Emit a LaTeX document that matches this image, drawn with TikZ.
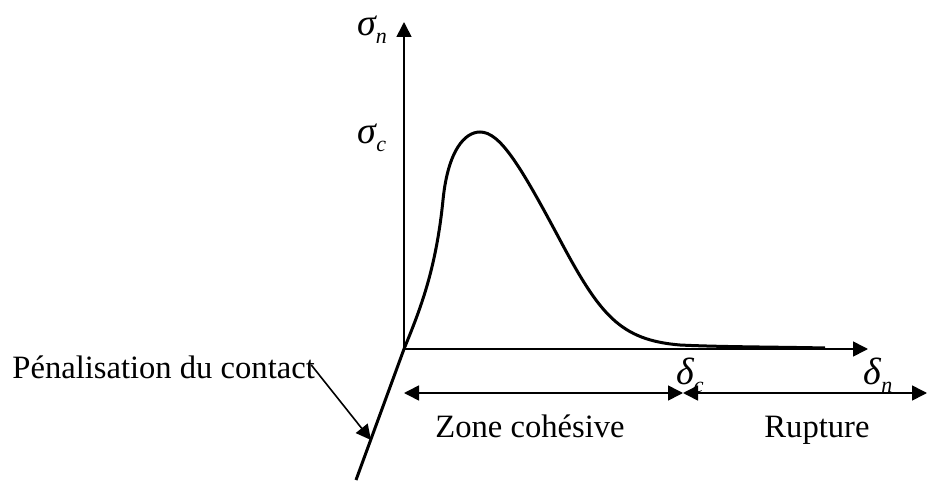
\documentclass[tikz,border=0pt]{standalone}
\usepackage{fontspec}
\setmainfont{Liberation Serif}
\usetikzlibrary{arrows.meta}
\begin{document}
\begin{tikzpicture}[x=0.5pt,y=-0.5pt,
  tip/.tip={Triangle[length=7.5pt,width=7.5pt]},
  axis/.style={line width=0.8pt,-tip},
  dim/.style={line width=0.8pt,tip-tip},
  thick curve/.style={line width=1.5pt},
  lbl/.style={inner sep=0pt,font=\fontsize{16.3pt}{19pt}\selectfont},
  gr/.style={inner sep=0pt,font=\fontsize{19pt}{22pt}\selectfont\itshape}]
\useasboundingbox (0,0) rectangle (927,481);
\coordinate (O) at (404,349);
\coordinate (Ytop) at (404,22);
\coordinate (Xend) at (868,349);
\coordinate (Pbot) at (356,480);
\coordinate (Ptip) at (371,440);
\coordinate (Zl) at (404,393);
\coordinate (Zm) at (683,393);
\coordinate (Zr) at (927,393);
% axes
\draw[axis] (O) -- (Ytop);
\draw[axis] (O) -- (Xend);
% penalisation line
\draw[thick curve] (O) -- (Pbot);
% cohesive curve
\draw[thick curve] (O) .. controls (420,310) and (436,270) .. (443,200)
  .. controls (448,150) and (465,132) .. (480,132)
  .. controls (500,132) and (520,165) .. (560,240)
  .. controls (600,315) and (620,340) .. (680,345)
  .. controls (720,347) and (780,347) .. (825,348);
% labels
\node[gr] (sn) at (372,30) {σ\raisebox{-0.45ex}{\fontsize{11pt}{13pt}\selectfont n}};
\node[gr] (sc) at (372,138) {σ\raisebox{-0.45ex}{\fontsize{11pt}{13pt}\selectfont c}};
\node[gr] (dc) at (690,375) {δ\raisebox{-0.45ex}{\fontsize{11pt}{13pt}\selectfont c}};
\node[gr] (dn) at (878,375) {δ\raisebox{-0.45ex}{\fontsize{11pt}{13pt}\selectfont n}};
\node[lbl,anchor=base west] (pen) at (12,378) {Pénalisation du contact};
\node[lbl,anchor=base] (zc) at (530,437) {Zone cohésive};
\node[lbl,anchor=base] (ru) at (817,437) {Rupture};
% dimension arrows
\draw[dim] (Zl) -- (Zm);
\draw[dim] (Zm) -- (Zr);
% pointer
\draw[line width=0.8pt,-tip] (pen.east) ++(-4,-2) -- (Ptip);
\end{tikzpicture}
\end{document}
